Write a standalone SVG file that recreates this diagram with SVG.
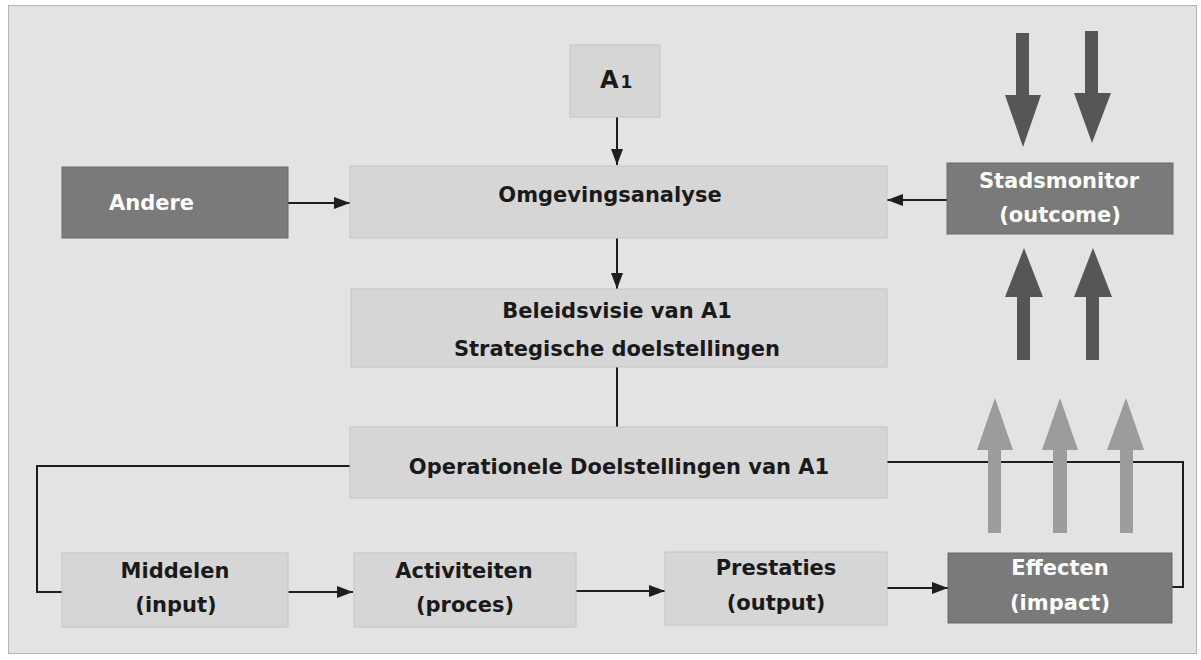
<svg xmlns="http://www.w3.org/2000/svg" width="1201" height="660" viewBox="0 0 1201 660">
<defs>
<marker id="ah" viewBox="0 0 16 12" refX="16" refY="6" markerWidth="16" markerHeight="12" markerUnits="userSpaceOnUse" orient="auto">
<path d="M0,0 L16,6 L0,12 Z" fill="#1e1e1e"/>
</marker>
</defs>
<style>
.bg{fill:#e3e3e3;stroke:#b5b5b5;stroke-width:1}
.lb{fill:#d6d6d6;stroke:#c4c4c4;stroke-width:1}
.db{fill:#7a7a7a;stroke:#6a6a6a;stroke-width:1}
.t{font-family:"DejaVu Sans",Verdana,sans-serif;font-weight:bold;font-size:21px;fill:#1a1a1a;text-anchor:middle}
.w{fill:#ffffff}
.c{fill:none;stroke:#1e1e1e;stroke-width:2}
.da{fill:#565656}
.la{fill:#9c9c9c}
</style>
<rect x="0" y="0" width="1201" height="660" fill="#ffffff"/>
<rect class="bg" x="8.5" y="5.5" width="1188" height="648"/>

<g id="connectors">
<line class="c" x1="617" y1="117" x2="617" y2="165" marker-end="url(#ah)"/>
<line class="c" x1="288" y1="203" x2="350" y2="203" marker-end="url(#ah)"/>
<line class="c" x1="947" y1="200" x2="887" y2="200" marker-end="url(#ah)"/>
<line class="c" x1="617" y1="238" x2="617" y2="289" marker-end="url(#ah)"/>
<line class="c" x1="617" y1="367" x2="617" y2="427"/>
<polyline class="c" points="350,466 37,466 37,592 62,592"/>
<polyline class="c" points="887,462 1183,462 1183,587 1172,587"/>
<line class="c" x1="288" y1="592" x2="353" y2="592" marker-end="url(#ah)"/>
<line class="c" x1="576" y1="591" x2="665" y2="591" marker-end="url(#ah)"/>
<line class="c" x1="887" y1="588" x2="948" y2="588" marker-end="url(#ah)"/>
</g>

<g id="big-arrows">
<path class="da" d="M1016,33 L1029,33 L1029,95 L1041,95 L1023,147 L1005,95 L1016,95 Z"/>
<path class="da" d="M1085,31 L1098,31 L1098,93 L1111,93 L1092,143 L1074,93 L1085,93 Z"/>
<path class="da" d="M1017,360 L1030,360 L1030,297 L1043,297 L1024,248 L1005,297 L1017,297 Z"/>
<path class="da" d="M1086,360 L1099,360 L1099,297 L1112,297 L1093,248 L1074,297 L1086,297 Z"/>
<path class="la" d="M988,533 L1001,533 L1001,450 L1013,450 L995,398 L977,450 L988,450 Z"/>
<path class="la" d="M1053,533 L1067,533 L1067,450 L1078,450 L1060,398 L1042,450 L1053,450 Z"/>
<path class="la" d="M1120,533 L1133,533 L1133,450 L1144,450 L1126,398 L1107,450 L1120,450 Z"/>
</g>

<g id="a1">
<rect class="lb" x="570" y="45" width="90" height="72"/>
<text class="t" x="600" y="88" style="text-anchor:start;font-size:24px">A<tspan dx="2" style="font-size:17px">1</tspan></text>
</g>
<g id="andere">
<rect class="db" x="62" y="167" width="226" height="71"/>
<text class="t w" x="109" y="210" style="text-anchor:start">Andere</text>
</g>
<g id="omgevingsanalyse">
<rect class="lb" x="350" y="166" width="537" height="72"/>
<text class="t" x="610" y="202">Omgevingsanalyse</text>
</g>
<g id="stadsmonitor">
<rect class="db" x="947" y="163" width="226" height="71"/>
<text class="t w" x="1059" y="188">Stadsmonitor</text>
<text class="t w" x="1060" y="222">(outcome)</text>
</g>
<g id="beleidsvisie">
<rect class="lb" x="351" y="289" width="536" height="78"/>
<text class="t" x="617" y="318">Beleidsvisie van A1</text>
<text class="t" x="617" y="356">Strategische doelstellingen</text>
</g>
<g id="operationele">
<rect class="lb" x="350" y="427" width="537" height="71"/>
<text class="t" x="619" y="474">Operationele Doelstellingen van A1</text>
</g>
<g id="middelen">
<rect class="lb" x="62" y="553" width="226" height="74"/>
<text class="t" x="175" y="578">Middelen</text>
<text class="t" x="176" y="612">(input)</text>
</g>
<g id="activiteiten">
<rect class="lb" x="354" y="553" width="222" height="74"/>
<text class="t" x="464" y="578">Activiteiten</text>
<text class="t" x="465" y="612">(proces)</text>
</g>
<g id="prestaties">
<rect class="lb" x="665" y="552" width="222" height="73"/>
<text class="t" x="776" y="575">Prestaties</text>
<text class="t" x="776" y="610">(output)</text>
</g>
<g id="effecten">
<rect class="db" x="948" y="553" width="224" height="70"/>
<text class="t w" x="1060" y="575">Effecten</text>
<text class="t w" x="1060" y="610">(impact)</text>
</g>
</svg>
